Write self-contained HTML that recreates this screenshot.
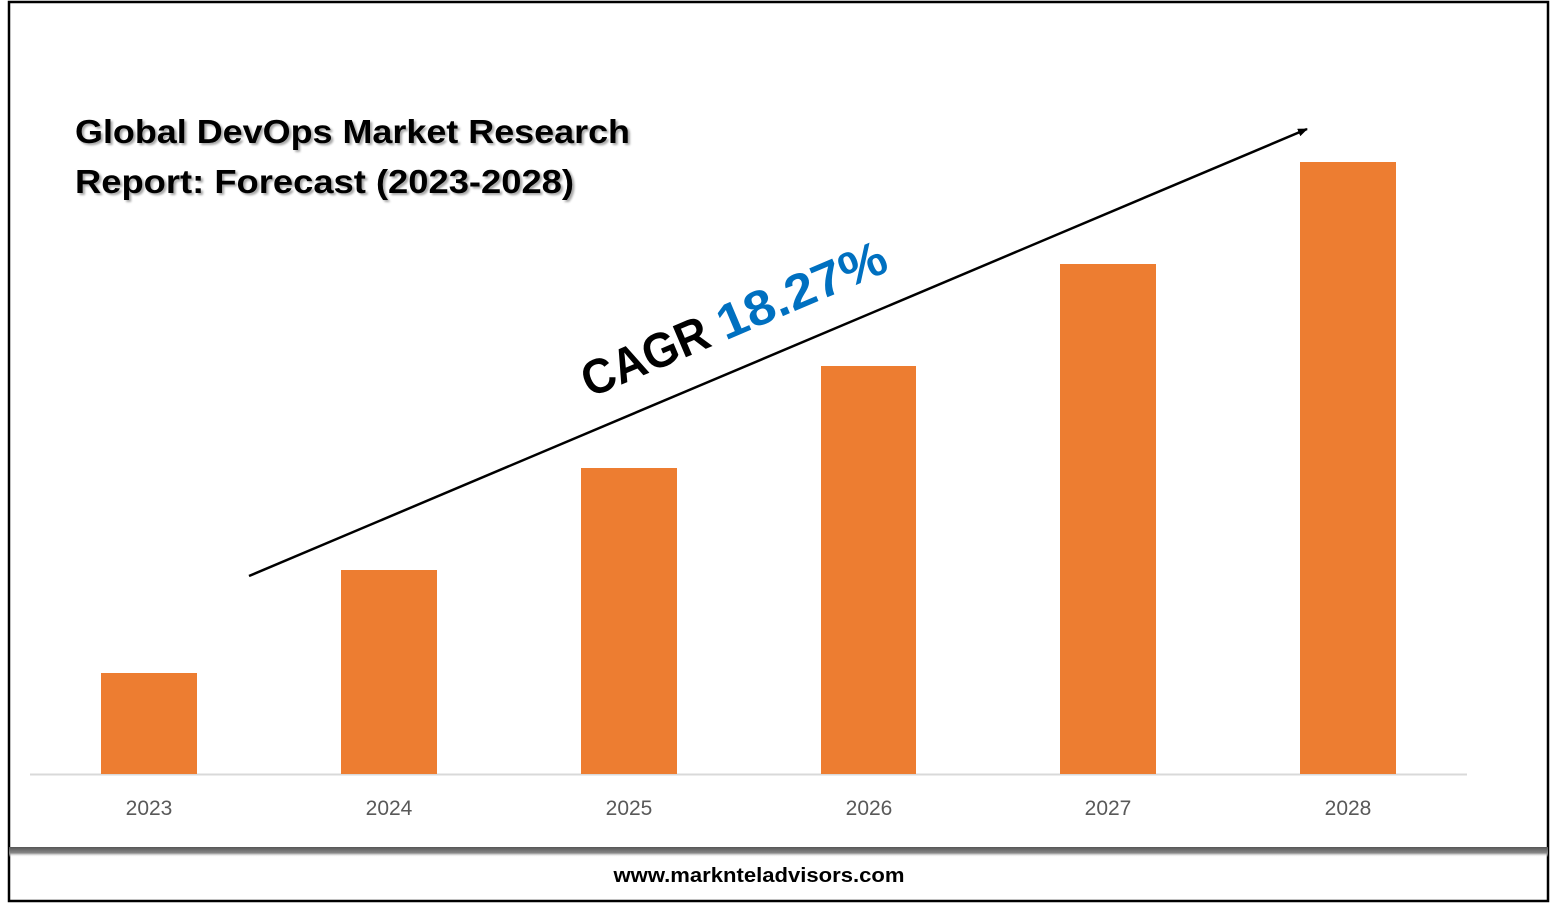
<!DOCTYPE html>
<html><head><meta charset="utf-8"><style>
html,body{margin:0;padding:0;background:#fff;}
svg{display:block}
</style></head><body>
<svg width="1557" height="906" viewBox="0 0 1557 906" xmlns="http://www.w3.org/2000/svg">
<defs>
<linearGradient id="sh" x1="0" y1="0" x2="0" y2="1">
<stop offset="0" stop-color="#555"/><stop offset="0.6" stop-color="#888"/><stop offset="1" stop-color="#fff" stop-opacity="0"/>
</linearGradient>
<marker id="ar" markerWidth="10" markerHeight="8" refX="9" refY="4" orient="auto" markerUnits="userSpaceOnUse">
<path d="M0,0 L10,4 L0,8 z" fill="#000"/>
</marker>
</defs>
<rect x="9" y="2" width="1539" height="899" fill="#fff" stroke="#000" stroke-width="2.5"/>
<rect x="9" y="847" width="1539" height="10" fill="url(#sh)"/>
<line x1="30" y1="774.5" x2="1467" y2="774.5" stroke="#d9d9d9" stroke-width="2"/>
<g fill="#ed7d31">
<rect x="101" y="673" width="96" height="101"/>
<rect x="341" y="570" width="96" height="204"/>
<rect x="581" y="468" width="96" height="306"/>
<rect x="821" y="366" width="95" height="408"/>
<rect x="1060" y="264" width="96" height="510"/>
<rect x="1300" y="162" width="96" height="612"/>
</g>
<g font-family="Liberation Sans, sans-serif" font-size="21" fill="#595959" text-anchor="middle">
<text x="149" y="815">2023</text><text x="389" y="815">2024</text><text x="629" y="815">2025</text>
<text x="869" y="815">2026</text><text x="1108" y="815">2027</text><text x="1348" y="815">2028</text>
</g>
<line x1="249" y1="576" x2="1307" y2="129" stroke="#000" stroke-width="2.5" marker-end="url(#ar)"/>
<g font-family="Liberation Sans, sans-serif" font-weight="bold" font-size="33" fill="#000" style="text-shadow:2px 2px 2px rgba(0,0,0,0.35)">
<text x="75" y="143" textLength="555" lengthAdjust="spacingAndGlyphs">Global DevOps Market Research</text>
<text x="75" y="193" textLength="499" lengthAdjust="spacingAndGlyphs">Report: Forecast (2023-2028)</text>
</g>
<g transform="translate(590,398) rotate(-23)" font-family="Liberation Sans, sans-serif" font-weight="bold" font-size="49">
<text x="0" y="0" fill="#000" textLength="134" lengthAdjust="spacingAndGlyphs">CAGR</text>
<text x="147" y="0" fill="#0070c0" textLength="180" lengthAdjust="spacingAndGlyphs">18.27%</text>
</g>
<text x="759" y="882" font-family="Liberation Sans, sans-serif" font-weight="bold" font-size="20" fill="#000" text-anchor="middle" textLength="291" lengthAdjust="spacingAndGlyphs">www.marknteladvisors.com</text>
</svg>
</body></html>
